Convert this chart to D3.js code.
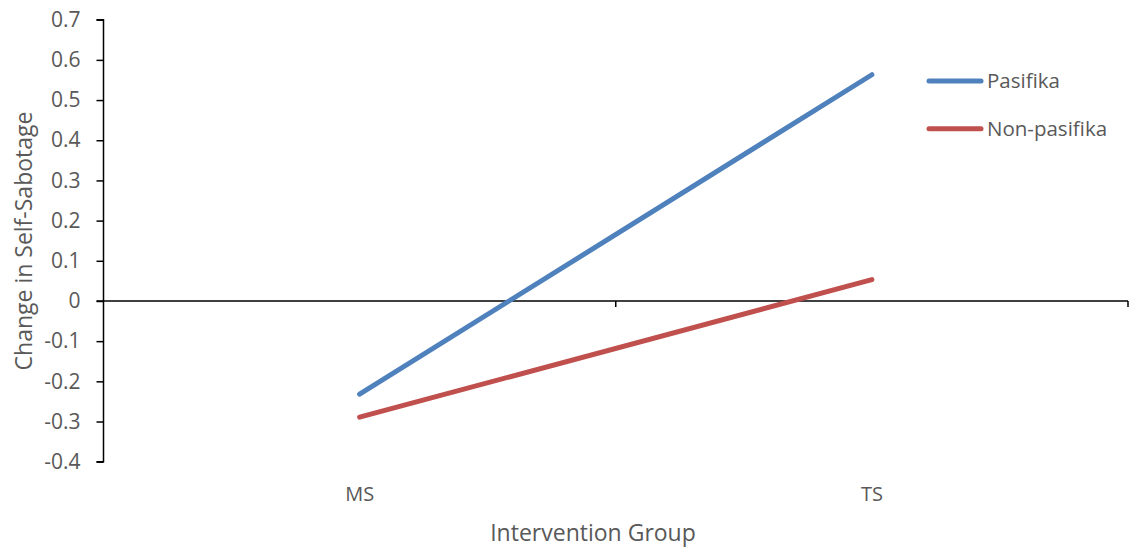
<!DOCTYPE html>
<html>
<head>
<meta charset="utf-8">
<script src="https://cdn.jsdelivr.net/npm/d3@7"></script>
<style>
  html, body { margin: 0; padding: 0; background: #fff; }
  svg { display: block; }
  text { font-family: "Open Sans", "Noto Sans", sans-serif; fill: #595959; }
</style>
</head>
<body>
<svg id="chart" width="1129" height="547"></svg>
<script>
const categories = ["MS", "TS"];
const seriesNames = ["Pasifika", "Non-pasifika"];
const pasifika = [-0.232, 0.563];
const nonPasifika = [-0.289, 0.053];
const yTicks = [0.7, 0.6, 0.5, 0.4, 0.3, 0.2, 0.1, 0, -0.1, -0.2, -0.3, -0.4];
const seriesColors = ["#4F81BD", "#C0504D"];
const xTitle = "Intervention Group";
const yTitle = "Change in Self-Sabotage";

const svg = d3.select("#chart");
const plotLeft = 103.5, plotRight = 1128, plotTop = 19.7, plotBottom = 461.7;

const y = d3.scaleLinear().domain([-0.4, 0.7]).range([plotBottom, plotTop]);
const x = d3.scalePoint().domain(categories).range([plotLeft, plotRight]).padding(0.5);

// Y axis
const yAxis = d3.axisLeft(y).tickValues(yTicks).tickSize(7).tickPadding(16)
  .tickFormat(d => String(+d.toFixed(1)));
const gy = svg.append("g").attr("transform", `translate(${plotLeft},0)`).call(yAxis);
gy.select(".domain").attr("stroke", "#000").attr("stroke-width", 1.5).attr("d", `M-7,${plotTop}H0V${plotBottom}H-7`);
gy.selectAll(".tick line").attr("stroke", "#000").attr("stroke-width", 1.5);
gy.selectAll(".tick text").style("font-size", "21px").attr("fill", "#595959")
  .style("font-family", '"Open Sans", sans-serif');

// X axis at zero
const y0 = y(0);
const boundaries = [plotLeft + x.step(), plotRight];
const gx = svg.append("g");
gx.append("line").attr("x1", plotLeft - 7).attr("x2", plotRight).attr("y1", y0).attr("y2", y0)
  .attr("stroke", "#000").attr("stroke-width", 1.5);
gx.selectAll("line.tk").data(boundaries).join("line").attr("class", "tk")
  .attr("x1", d => d).attr("x2", d => d).attr("y1", y0).attr("y2", y0 + 6)
  .attr("stroke", "#000").attr("stroke-width", 1.5);

// category labels at bottom
svg.append("g").selectAll("text").data(categories).join("text")
  .attr("x", d => x(d)).attr("y", 501).attr("text-anchor", "middle")
  .style("font-size", "20px").text(d => d);

// axis titles
svg.append("text").attr("x", 593).attr("y", 541)
  .attr("text-anchor", "middle").style("font-size", "23px").text(xTitle);
svg.append("text").attr("transform", `translate(32,241) rotate(-90)`)
  .attr("text-anchor", "middle").style("font-size", "23px").text(yTitle);

// lines
const line = d3.line().x((d, i) => x(categories[i])).y(d => y(d));
const series = [pasifika, nonPasifika];
svg.append("g").selectAll("path").data(series).join("path")
  .attr("d", line).attr("fill", "none")
  .attr("stroke", (d, i) => seriesColors[i]).attr("stroke-width", 5)
  .attr("stroke-linecap", "round");

// legend
const lg = svg.append("g");
const legY = [81, 128.7];
seriesNames.forEach((name, i) => {
  lg.append("line").attr("x1", 929).attr("x2", 981).attr("y1", legY[i]).attr("y2", legY[i])
    .attr("stroke", seriesColors[i]).attr("stroke-width", 5).attr("stroke-linecap", "round");
  lg.append("text").attr("x", 987).attr("y", legY[i] + 7).style("font-size", "20.5px").text(name);
});
</script>
</body>
</html>
